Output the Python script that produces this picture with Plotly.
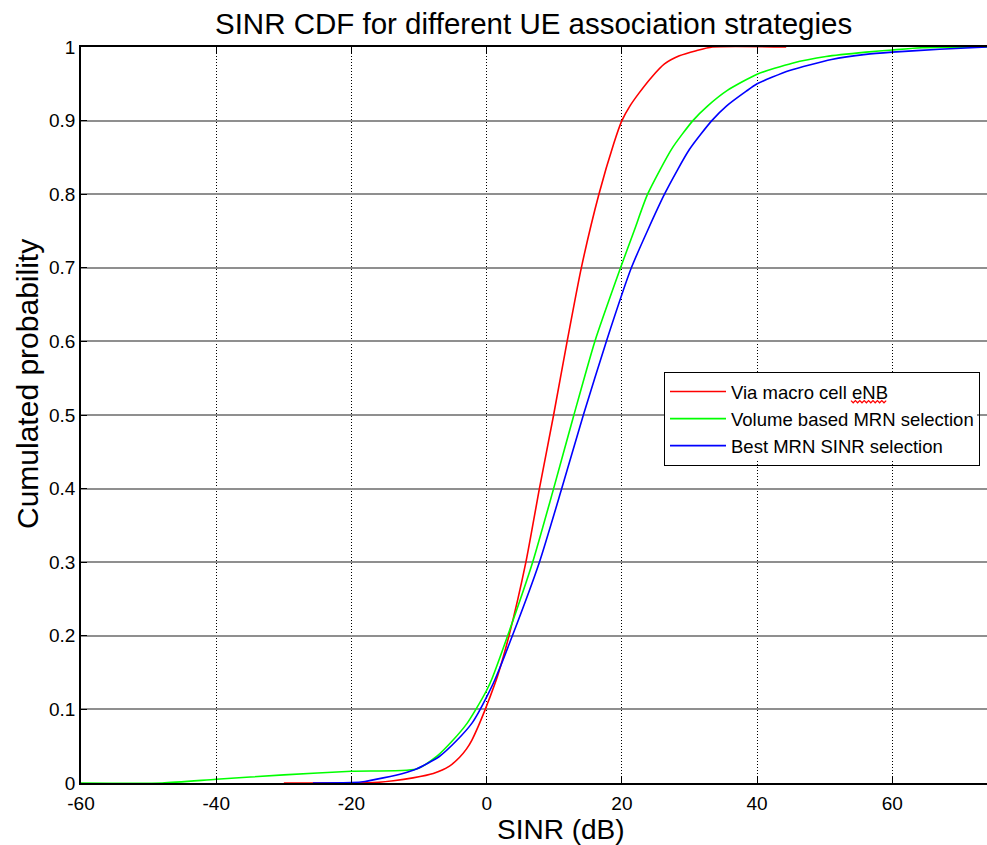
import plotly.graph_objects as go

# ---- data ----
macro_x = [-30, -20, -16, -13.8, -10.9, -7.9, -5.5, -4, -3, -2.2, -1.2, -0.3, 0.5, 1.6, 3.3, 5.8, 7.8, 9.9, 11.9, 14, 16.6, 18.8, 20, 21.2, 22.5, 24.4, 26.3, 28.5, 31, 33.4, 44.3]
macro_y = [0, 0, 0.001, 0.003, 0.007, 0.013, 0.023, 0.035, 0.046, 0.058, 0.078, 0.098, 0.117, 0.145, 0.2, 0.3, 0.4, 0.5, 0.6, 0.7, 0.8, 0.869, 0.9, 0.92, 0.937, 0.959, 0.977, 0.988, 0.995, 1.0, 1.0]

volume_x = [-60, -48, -40, -30, -20, -10.4, -7.4, -5.0, -2.9, -1.6, 0, 0.8, 3.1, 6.8, 9.9, 12.9, 16, 19.8, 21.8, 23.8, 27.4, 30.5, 32.7, 35.6, 40, 45.2, 50.2, 56.1, 60, 64.4, 74]
volume_y = [0, 0, 0.005, 0.011, 0.016, 0.019, 0.036, 0.058, 0.081, 0.1, 0.126, 0.142, 0.2, 0.3, 0.4, 0.5, 0.6, 0.7, 0.75, 0.8, 0.862, 0.9, 0.92, 0.941, 0.963, 0.978, 0.987, 0.993, 0.996, 0.999, 1.0]

best_x = [-25.7, -20, -18, -15.3, -12.4, -10.4, -7, -4.4, -2.2, -1.2, 0, 1.2, 3.8, 7.8, 11.1, 14.3, 17.7, 21.4, 26.3, 30, 33.3, 35.5, 38.4, 40, 44.8, 51, 56.1, 60, 67, 74]
best_y = [0, 0.0005, 0.002, 0.007, 0.013, 0.019, 0.036, 0.058, 0.081, 0.096, 0.117, 0.14, 0.2, 0.3, 0.4, 0.5, 0.6, 0.7, 0.8, 0.861, 0.9, 0.92, 0.94, 0.95, 0.968, 0.983, 0.99, 0.993, 0.997, 1.0]

series_names = ["Via macro cell eNB", "Volume based MRN selection", "Best MRN SINR selection"]
series_colors = ["#ff0000", "#00ff00", "#0000ff"]

x_ticks = [-60, -40, -20, 0, 20, 40, 60]
y_ticks = [0, 0.1, 0.2, 0.3, 0.4, 0.5, 0.6, 0.7, 0.8, 0.9, 1]
y_tick_text = ["0", "0.1", "0.2", "0.3", "0.4", "0.5", "0.6", "0.7", "0.8", "0.9", "1"]

FONT = "Liberation Sans, Arial, sans-serif"

# plot-area geometry in pixels (used only for placing text / decoration)
L, R, T, B = 81, 987, 47, 783
PW, PH = R - L, B - T


def px2paper(px, py):
    return (px - L) / PW, (B - py) / PH


fig = go.Figure()
for xs, ys, name, col in zip([macro_x, volume_x, best_x], [macro_y, volume_y, best_y], series_names, series_colors):
    fig.add_trace(go.Scatter(x=xs, y=ys, mode="lines", name=name,
                             line=dict(color=col, width=1.6, shape="spline", smoothing=0.6)))

# legend box (pixels) – white backing drawn as a shape so that the squiggle can sit on top
LEG_L, LEG_T, LEG_R, LEG_B = 664, 372, 978, 462
bx0, by0 = px2paper(LEG_L + 1, LEG_B - 1)
bx1, by1 = px2paper(LEG_R - 1, LEG_T + 1)

# red spell-check squiggle under "eNB" in the legend (decoration seen in the reference)
sq_pts = []
px = 851.0
i = 0
while px <= 888:
    py = 401.5 + (1.3 if i % 2 else -0.9)
    sq_pts.append(px2paper(px, py))
    px += 2.2
    i += 1
sq_path = "M" + " L".join(f"{a:.5f},{b:.5f}" for a, b in sq_pts)

fig.update_layout(
    width=987, height=845,
    margin=dict(l=L, r=0, t=T, b=845 - B),
    paper_bgcolor="white", plot_bgcolor="white",
    font=dict(family=FONT, color="black"),
    showlegend=True,
    legend=dict(x=px2paper(LEG_L, 0)[0], y=px2paper(0, LEG_T)[1], xanchor="left", yanchor="top",
                bgcolor="rgba(255,255,255,0)", bordercolor="black", borderwidth=1,
                font=dict(size=18.5, family=FONT), tracegroupgap=0,
                itemwidth=56),
    shapes=[
        dict(type="rect", xref="paper", yref="paper", x0=bx0, y0=by0, x1=bx1, y1=by1,
             fillcolor="white", line=dict(width=0), layer="above"),
        dict(type="path", xref="paper", yref="paper", path=sq_path,
             line=dict(color="#ff0000", width=1.2), layer="above"),
    ],
    annotations=[
        dict(text="SINR CDF for different UE association strategies", xref="paper", yref="paper",
             x=px2paper(533, 0)[0], y=px2paper(0, 23)[1], xanchor="center", yanchor="middle", showarrow=False,
             font=dict(size=29.5, family=FONT)),
        dict(text="SINR (dB)", xref="paper", yref="paper",
             x=px2paper(561, 0)[0], y=px2paper(0, 829)[1], xanchor="center", yanchor="middle",
             showarrow=False, font=dict(size=28, family=FONT)),
        dict(text="Cumulated probability", xref="paper", yref="paper",
             x=px2paper(28, 0)[0], y=px2paper(0, 384)[1], xanchor="center", yanchor="middle",
             textangle=-90, showarrow=False, font=dict(size=30, family=FONT)),
    ],
)

fig.update_xaxes(range=[-60, 74], tickvals=x_ticks, ticktext=[str(v) for v in x_ticks],
                 showline=True, linecolor="black", linewidth=1.5, mirror="ticks",
                 ticks="inside", ticklen=6, tickcolor="black", ticklabelstandoff=2,
                 showgrid=True, gridcolor="black", gridwidth=1, griddash="1px,2px",
                 zeroline=False, tickfont=dict(size=19, family=FONT))
fig.update_yaxes(range=[0, 1], tickvals=y_ticks, ticktext=y_tick_text,
                 showline=True, linecolor="black", linewidth=1.5, mirror=False,
                 ticks="inside", ticklen=6, tickcolor="black",
                 showgrid=True, gridcolor="#8f8f8f", gridwidth=1.5,
                 zeroline=False, tickfont=dict(size=19, family=FONT))

fig.write_html("out.html")
